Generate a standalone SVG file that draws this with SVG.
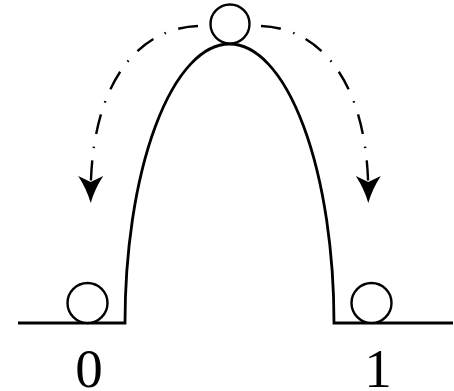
<svg xmlns="http://www.w3.org/2000/svg" width="454" height="391" viewBox="0 0 454 391">
<defs>
<style>
.line{fill:none;stroke:#000;stroke-width:2.8}
.ball{fill:#fff;stroke:#000;stroke-width:2.4}
.flow{fill:none;stroke:#000;stroke-width:2.4;stroke-dasharray:20 13 1.5 12.5}
.lbl{font-family:"Liberation Serif","Times New Roman",serif;font-size:55px;fill:#000;text-anchor:middle}
</style>
<marker id="ah" viewBox="-30 -15 32 30" refX="0" refY="0" markerWidth="32" markerHeight="30" markerUnits="userSpaceOnUse" orient="auto">
<path d="M0,0 Q-14,-4 -27,-12.5 L-21,0 L-27,12.5 Q-14,4 0,0 Z" fill="#000"/>
</marker>
</defs>
<g id="ground">
<path class="line" d="M18 323 H125 A104.5 279 0 0 1 334 323 H453"/>
</g>
<g id="connectors">
<path class="flow" d="M198 26 C140 28 92 80 90.7 190 L90.7 203" marker-end="url(#ah)"/>
<path class="flow" d="M261 26 C319 28 367 80 368.3 190 L368.3 203" marker-end="url(#ah)"/>
</g>
<g id="ball-top"><circle class="ball" cx="230" cy="24" r="19.5"/></g>
<g id="ball-left"><circle class="ball" cx="87.5" cy="303" r="20"/></g>
<g id="ball-right"><circle class="ball" cx="371.5" cy="303" r="20"/></g>
<g id="label-0"><text class="lbl" x="89" y="386.5">0</text></g>
<g id="label-1"><text class="lbl" x="378" y="386.5">1</text></g>
</svg>
